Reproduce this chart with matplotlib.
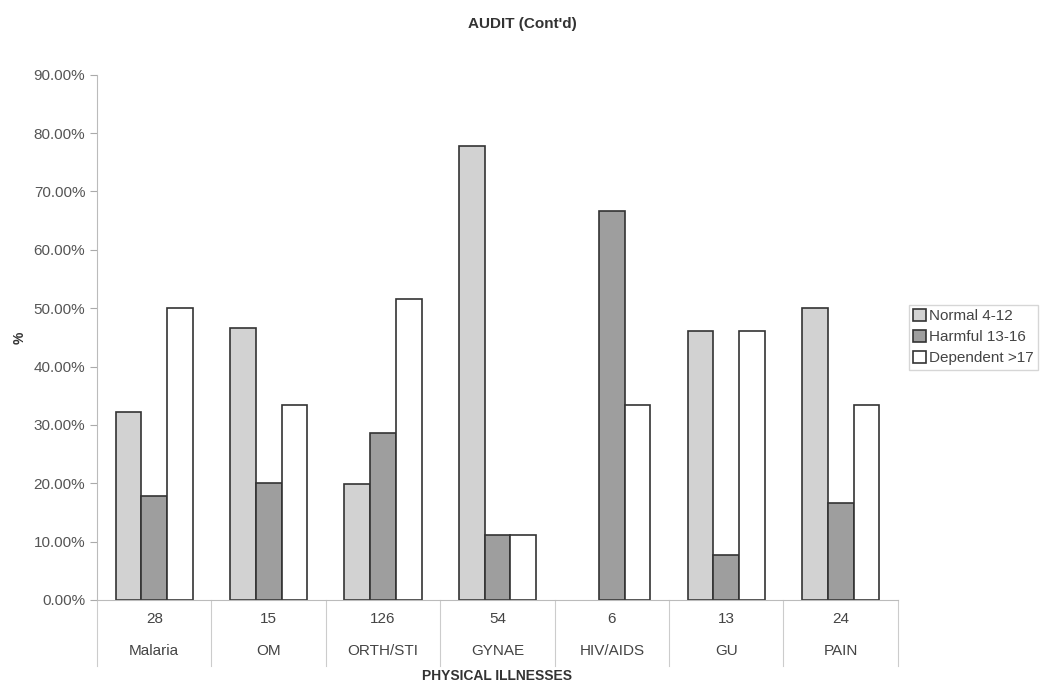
import numpy as np
import matplotlib.pyplot as plt
import matplotlib.transforms as mtransforms

plt.rcParams["font.family"] = ["Liberation Sans", "DejaVu Sans"]

illnesses = ["Malaria", "OM", "ORTH/STI", "GYNAE", "HIV/AIDS", "GU", "PAIN"]
counts = [28, 15, 126, 54, 6, 13, 24]
normal = [32.14, 46.67, 19.84, 77.78, 0.0, 46.15, 50.0]
harmful = [17.86, 20.0, 28.57, 11.11, 66.67, 7.69, 16.67]
dependent = [50.0, 33.33, 51.59, 11.11, 33.33, 46.15, 33.33]

series = [
    ("Normal 4-12", normal, "#d2d2d2"),
    ("Harmful 13-16", harmful, "#9e9e9e"),
    ("Dependent >17", dependent, "#ffffff"),
]

fig = plt.figure(figsize=(10.44, 6.92), dpi=100)
ax = fig.add_axes([0.093, 0.133, 0.767, 0.759])

x = np.arange(len(illnesses))
width = 0.225
for i, (label, vals, color) in enumerate(series):
    lw = [0 if v == 0 else 1.2 for v in vals]
    ax.bar(x + (i - 1) * width, vals, width, color=color, edgecolor="#333333",
           linewidth=lw, label=label)

ax.set_xlim(-0.5, len(illnesses) - 0.5)
ax.set_ylim(0, 90)
ax.set_yticks(np.arange(0, 91, 10))
ax.set_yticklabels([f"{v:.2f}%" for v in np.arange(0, 91, 10)],
                   fontsize=11, color="#555555")
ax.tick_params(axis="y", length=5, color="#aaaaaa")
ax.set_xticks([])

for s in ["top", "right"]:
    ax.spines[s].set_visible(False)
ax.spines["left"].set_color("#bbbbbb")
ax.spines["bottom"].set_color("#bbbbbb")

# two-row category table under the axis
trans = mtransforms.blended_transform_factory(ax.transData, ax.transAxes)
for xi, n, name in zip(x, counts, illnesses):
    ax.text(xi, -0.037, str(n), transform=trans, ha="center", va="center",
            fontsize=11, color="#444444")
    ax.text(xi, -0.098, name, transform=trans, ha="center", va="center",
            fontsize=11, color="#444444")
for b in np.arange(-0.5, len(illnesses), 1.0):
    ax.plot([b, b], [0, -0.125], transform=trans, color="#cccccc",
            linewidth=0.8, clip_on=False)

ax.set_xlabel("PHYSICAL ILLNESSES", fontsize=10, fontweight="bold",
              color="#333333", labelpad=50)
ax.set_ylabel("%", fontsize=10, fontweight="bold", color="#333333", labelpad=5)
fig.suptitle("AUDIT (Cont'd)", fontsize=11, fontweight="bold", color="#333333",
             y=0.975)

leg = ax.legend(loc="center left", bbox_to_anchor=(1.01, 0.5), fontsize=11,
                frameon=True, fancybox=False, edgecolor="#cccccc",
                handlelength=0.8, handleheight=0.8, handletextpad=0.2,
                borderpad=0.3, labelspacing=0.45, borderaxespad=0.2)
for t in leg.get_texts():
    t.set_color("#444444")

fig.savefig("out.png", dpi=100)
